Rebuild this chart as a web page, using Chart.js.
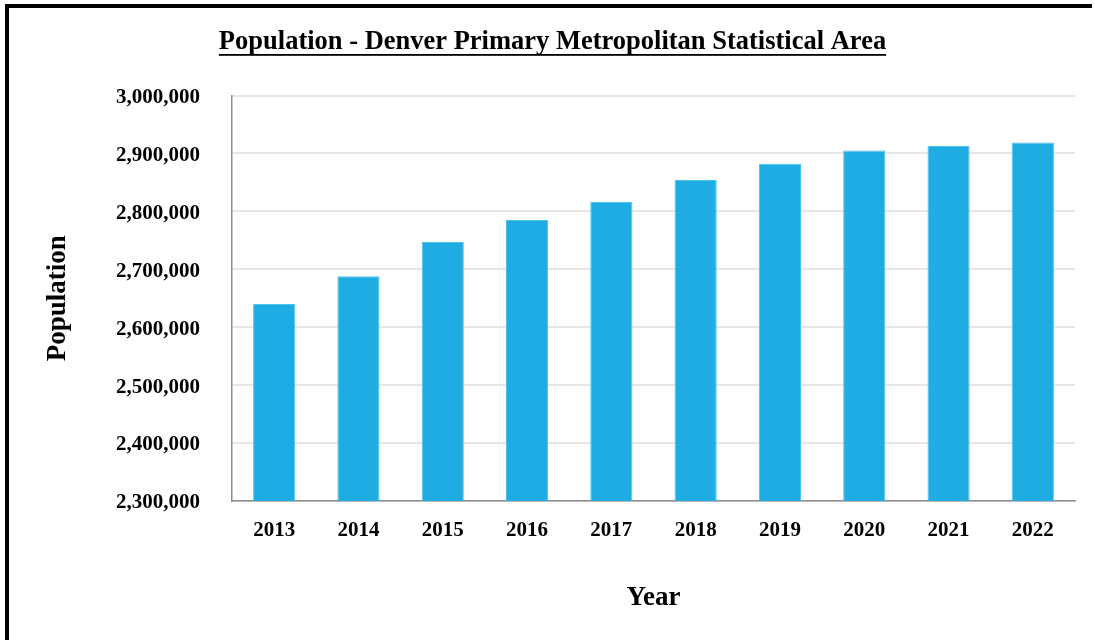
<!DOCTYPE html>
<html>
<head>
<meta charset="utf-8">
<script src="https://cdn.jsdelivr.net/npm/chart.js@4"></script>
<style>
  html, body { margin: 0; padding: 0; background: #fff; }
  #wrap { position: relative; width: 1095px; height: 640px; overflow: hidden; }
  #frame { position: absolute; left: 5px; top: 4px; width: 1087px; height: 700px;
           border-top: 4px solid #000; border-left: 4px solid #000; box-sizing: border-box; pointer-events: none; }
  canvas { position: absolute; left: 0; top: 0; }
</style>
</head>
<body>
<div id="wrap">
  <canvas id="c" width="1095" height="640"></canvas>
  <div id="frame"></div>
</div>
<script>
const chartTitle = 'Population - Denver Primary Metropolitan Statistical Area';
const xAxisTitle = 'Year';
const yAxisTitle = 'Population';
const years = ['2013', '2014', '2015', '2016', '2017', '2018', '2019', '2020', '2021', '2022'];
const population = [2640000, 2688000, 2747000, 2785000, 2816000, 2854000, 2882000, 2905000, 2913000, 2919000];
const yMin = 2300000;
const yMax = 3000000;
const yStep = 100000;

const FONT = "'Liberation Serif', 'Times New Roman', serif";
const TITLE_SIZE = 26.5;
const TITLE_PAD_TOP = 26.1;

const underlinePlugin = {
  id: 'underlineTitle',
  afterDraw(chart) {
    const tb = chart.titleBlock;
    if (!tb) return;
    const ctx = chart.ctx;
    ctx.save();
    ctx.font = 'bold ' + TITLE_SIZE + 'px ' + FONT;
    const w = ctx.measureText(chartTitle).width;
    const cx = (tb.left + tb.right) / 2;
    const cy = tb.top + TITLE_PAD_TOP + TITLE_SIZE * 1.2 / 2;
    ctx.fillStyle = '#000';
    ctx.fillRect(cx - w / 2, cy + 12, w, 1.8);
    ctx.restore();
  }
};

new Chart(document.getElementById('c'), {
  type: 'bar',
  data: {
    labels: years,
    datasets: [{
      data: population,
      backgroundColor: '#1EACE3',
      borderColor: '#4CC2EE',
      borderWidth: 1,
      categoryPercentage: 1.0,
      barPercentage: 0.5
    }]
  },
  options: {
    responsive: false,
    animation: false,
    layout: { padding: { left: 30, right: 20, top: 0, bottom: 0 } },
    plugins: {
      legend: { display: false },
      tooltip: { enabled: false },
      title: {
        display: true,
        text: chartTitle,
        color: '#000',
        font: { family: FONT, size: TITLE_SIZE, weight: 'bold', lineHeight: 1.2 },
        padding: { top: TITLE_PAD_TOP, bottom: 37.6 }
      }
    },
    scales: {
      x: {
        grid: { display: false, drawTicks: false },
        border: { display: true, color: '#8c8c8c', width: 1.5 },
        ticks: { color: '#000', padding: 17, font: { family: FONT, size: 21, weight: 'bold' } },
        title: {
          display: true, text: xAxisTitle, color: '#000',
          font: { family: FONT, size: 27, weight: 'bold', lineHeight: 1.2 },
          padding: { top: 0, bottom: 25.8 }
        },
        afterFit(scale) { scale.height = 139; }
      },
      y: {
        min: yMin, max: yMax,
        grid: { color: '#e6e6e6', lineWidth: 2, drawTicks: false },
        border: { display: true, color: '#8c8c8c', width: 1.5 },
        ticks: {
          stepSize: yStep, color: '#000', padding: 32, labelOffset: 2,
          font: { family: FONT, size: 21, weight: 'bold' },
          callback: v => Number(v).toLocaleString('en-US')
        },
        title: {
          display: true, text: yAxisTitle, color: '#000',
          font: { family: FONT, size: 27, weight: 'bold', lineHeight: 1.2 },
          padding: { top: 11.8, bottom: 0 }
        },
        afterFit(scale) { scale.width = 202; }
      }
    }
  },
  plugins: [underlinePlugin]
});
</script>
</body>
</html>
